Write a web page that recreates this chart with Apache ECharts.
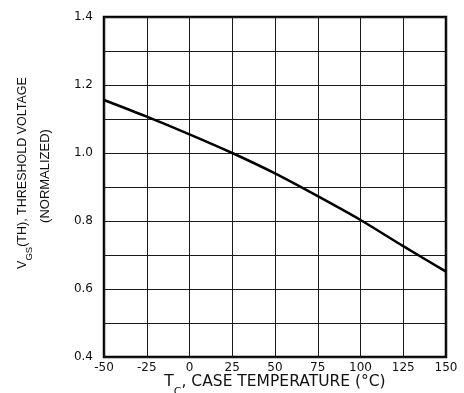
<!DOCTYPE html>
<html>
<head>
<meta charset="utf-8">
<script src="https://cdn.jsdelivr.net/npm/echarts@6/dist/echarts.min.js"></script>
<style>
  html, body { margin: 0; padding: 0; background: #fff; }
  #chart { width: 464px; height: 393px; }
</style>
</head>
<body>
<div id="chart"></div>
<script>
// Case temperature (°C) and normalized gate threshold voltage
const temperatures = [-50, -25, 0, 25, 50, 75, 100, 125, 150];
const thresholdVoltage = [1.156, 1.107, 1.055, 1.0, 0.94, 0.873, 0.803, 0.726, 0.651];
const xTicks = [-50, -25, 0, 25, 50, 75, 100, 125, 150];
const yTicks = [0.4, 0.6, 0.8, 1.0, 1.2, 1.4];

const SANS = '"Liberation Sans", Arial, sans-serif';
const WIDE = '"DejaVu Sans", sans-serif';
const INK = '#111';

const chart = echarts.init(document.getElementById('chart'));

// main text sits at the top of the line box, subscript drops to its bottom
function subStyles(family, size, subSize, drop) {
  return {
    n: { fontFamily: family, fontSize: size, lineHeight: size + 1, fill: INK, verticalAlign: 'top' },
    s: { fontFamily: family, fontSize: subSize, lineHeight: size + 1 + drop, fill: INK, verticalAlign: 'bottom' }
  };
}

chart.setOption({
  animation: false,
  backgroundColor: '#ffffff',
  grid: {
    left: 104, right: 18, top: 17, bottom: 36,
    show: true, borderColor: '#000', borderWidth: 2.5
  },
  xAxis: {
    type: 'value',
    min: xTicks[0], max: xTicks[xTicks.length - 1], interval: 25,
    axisLine: { show: false },
    axisTick: { show: false },
    splitLine: { show: true, lineStyle: { color: '#1a1a1a', width: 1 } },
    axisLabel: {
      color: INK, fontFamily: WIDE, fontSize: 12, margin: 5,
      formatter: v => String(v)
    }
  },
  yAxis: {
    type: 'value',
    min: yTicks[0], max: yTicks[yTicks.length - 1], interval: 0.1,
    axisLine: { show: false },
    axisTick: { show: false },
    splitLine: { show: true, lineStyle: { color: '#1a1a1a', width: 1 } },
    axisLabel: {
      color: INK, fontFamily: WIDE, fontSize: 12, margin: 11,
      formatter: v => {
        const hit = yTicks.some(t => Math.abs(t - v) < 1e-6);
        return hit ? v.toFixed(1) : '';
      }
    }
  },
  graphic: [
    {
      type: 'text',
      rotation: Math.PI / 2,
      x: 25, y: 173,
      style: {
        text: '{n|V}{s|GS}{n|(TH), THRESHOLD VOLTAGE}',
        rich: subStyles(SANS, 12.5, 9.5, 5),
        align: 'center', verticalAlign: 'middle'
      }
    },
    {
      type: 'text',
      rotation: Math.PI / 2,
      x: 45, y: 176,
      style: {
        text: '(NORMALIZED)',
        fontFamily: SANS, fontSize: 13, fill: INK,
        align: 'center', verticalAlign: 'middle'
      }
    },
    {
      type: 'text',
      x: 275, y: 386,
      style: {
        text: '{n|T}{s|C}{n|, CASE TEMPERATURE (°C)}',
        rich: subStyles(WIDE, 15.5, 11, 7),
        align: 'center', verticalAlign: 'middle'
      }
    }
  ],
  series: [{
    type: 'line',
    data: temperatures.map((t, i) => [t, thresholdVoltage[i]]),
    smooth: 0.3,
    showSymbol: false,
    lineStyle: { color: '#000', width: 2.5 },
    clip: true
  }]
});
</script>
</body>
</html>
